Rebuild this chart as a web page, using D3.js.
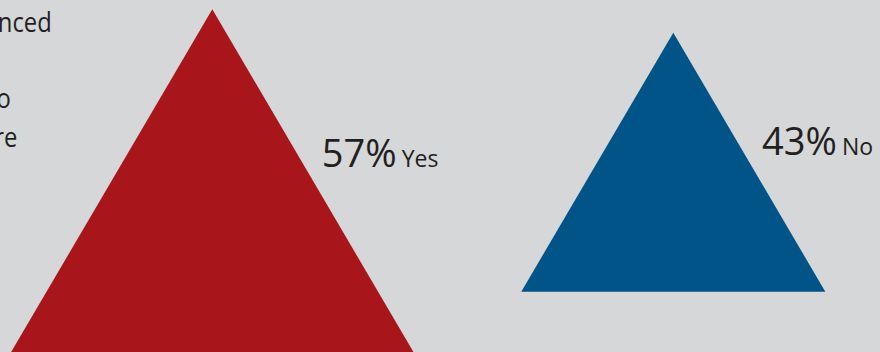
<!DOCTYPE html>
<html>
<head>
<meta charset="utf-8">
<script src="https://cdn.jsdelivr.net/npm/d3@7"></script>
<style>
  html, body { margin: 0; padding: 0; background: #d6d7d9; overflow: hidden; }
  svg { display: block; }
</style>
</head>
<body>
<svg id="chart" width="880" height="352"></svg>
<script>
// Survey answers: each triangle's height is proportional to its share
const categories = ["Yes", "No"];
const values = [57, 43];
const valueLabels = ["57%", "43%"];
// Tail ends of the intro paragraph that sits to the left
const introLines = ["nced", "", "o", "re"];

const width = 880, height = 352;
const svg = d3.select("#chart");

svg.append("rect")
  .attr("width", width).attr("height", height)
  .attr("fill", "#d6d7d9");

const colors = d3.scaleOrdinal().domain(categories).range(["#a8151b", "#005488"]);

// Horizontal centre of each triangle
const x = d3.scalePoint().domain(categories).range([212.3, 673.3]);
// Baseline each triangle stands on
const base = d3.scaleOrdinal().domain(categories).range([352.6, 291.7]);
// Triangle height from the percentage
const h = d3.scaleLinear().domain([0, 57]).range([0, 343.3]);
const slope = 0.587; // half-width per unit of height

const rows = categories.map((c, i) => ({ cat: c, value: values[i], label: valueLabels[i] }));

const g = svg.append("g");

g.selectAll("path.tri")
  .data(rows)
  .join("path")
  .attr("class", "tri")
  .attr("fill", d => colors(d.cat))
  .attr("d", d => {
    const hh = h(d.value);
    const cx = x(d.cat), by = base(d.cat), ay = by - hh;
    const hw = hh * slope;
    return d3.line()([[cx, ay], [cx + hw, by], [cx - hw, by]]) + "Z";
  });

// Percentage + answer label beside the right edge
const labels = g.selectAll("text.val")
  .data(rows)
  .join("text")
  .attr("class", "val")
  .attr("fill", "#231f20")
  .attr("font-family", "'Open Sans', sans-serif")
  .each(function (d) {
    const hh = h(d.value);
    const ay = base(d.cat) - hh;
    const y = ay + 0.418 * hh + 14;
    const edge = x(d.cat) + (y - ay) * slope;
    d3.select(this).attr("x", edge + 17).attr("y", y);
  });

labels.append("tspan")
  .attr("font-size", 38)
  .text(d => d.label);
labels.append("tspan")
  .attr("font-size", 23)
  .attr("dx", 5)
  .text(d => d.cat);

// Intro paragraph fragments, right-aligned where the visible words end
const introEnds = [51.7, 0, 10.7, 17.3];
svg.append("g")
  .selectAll("text")
  .data(introLines)
  .join("text")
  .attr("text-anchor", "end")
  .attr("x", (d, i) => introEnds[i])
  .attr("y", (d, i) => 31.7 + i * 38.3)
  .attr("fill", "#231f20")
  .attr("font-family", "'Open Sans', sans-serif")
  .attr("font-size", 28)
  .attr("transform", (d, i) => `translate(${introEnds[i]},0) scale(0.85,1) translate(${-introEnds[i]},0)`)
  .text(d => d);
</script>
</body>
</html>
